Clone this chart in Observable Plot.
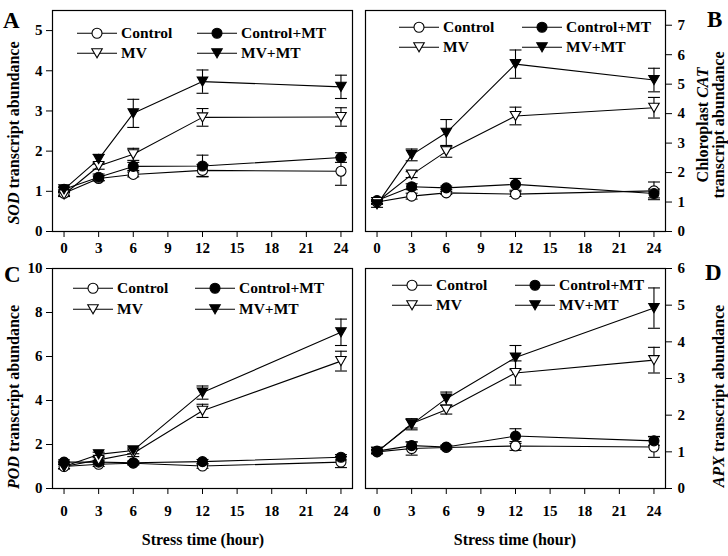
<!DOCTYPE html>
<html><head><meta charset="utf-8">
<script src="https://cdn.jsdelivr.net/npm/d3@7"></script>
<script src="https://cdn.jsdelivr.net/npm/@observablehq/plot@0.6"></script>
<style>
body{margin:0;background:#fff;}
#fig{position:relative;width:728px;height:556px;overflow:hidden;background:#fff;font-family:"Liberation Serif","Times New Roman",serif;font-weight:bold;color:#000;}
#fig svg.plotsvg{position:absolute;}
.rot{position:absolute;transform:translate(-50%,-50%) rotate(-90deg);white-space:nowrap;font-size:16px;line-height:1;text-align:center;}
.letter{position:absolute;font-size:23px;line-height:1;}
.leg{position:absolute;display:flex;align-items:center;font-size:15.5px;white-space:nowrap;transform:translateY(-50%);line-height:1;}
.leg svg{margin-right:4px;overflow:visible;}
.xt{position:absolute;transform:translate(-50%,-50%);font-size:16px;white-space:nowrap;}
</style></head>
<body><div id="fig"></div>
<script>
// ---------- data ----------
const times = [0, 3, 6, 12, 24];
const seriesNames = ["Control", "Control+MT", "MV", "MV+MT"];
const xTicks = [0, 3, 6, 9, 12, 15, 18, 21, 24];

// A: SOD
const sodControl   = [0.95, 1.32, 1.42, 1.52, 1.50];
const sodControlE  = [0.05, 0.06, 0.06, 0.15, 0.35];
const sodControlMT = [1.05, 1.35, 1.62, 1.63, 1.84];
const sodControlME = [0.06, 0.08, 0.10, 0.27, 0.12];
const sodMV        = [0.92, 1.63, 1.92, 2.84, 2.85];
const sodMVE       = [0.05, 0.08, 0.15, 0.22, 0.23];
const sodMVMT      = [1.05, 1.80, 2.94, 3.73, 3.60];
const sodMVMTE     = [0.05, 0.12, 0.35, 0.29, 0.29];
const sodTicks = [0, 1, 2, 3, 4, 5];

// B: chloroplast CAT
const catControl   = [1.00, 1.20, 1.31, 1.27, 1.38];
const catControlE  = [0.05, 0.10, 0.05, 0.08, 0.30];
const catControlMT = [1.05, 1.52, 1.48, 1.60, 1.29];
const catControlME = [0.10, 0.10, 0.06, 0.20, 0.15];
const catMV        = [1.00, 1.93, 2.72, 3.92, 4.20];
const catMVE       = [0.08, 0.10, 0.20, 0.30, 0.35];
const catMVMT      = [0.92, 2.60, 3.35, 5.68, 5.14];
const catMVMTE     = [0.10, 0.20, 0.45, 0.48, 0.40];
const catTicks = [0, 1, 2, 3, 4, 5, 6, 7];

// C: POD
const podControl   = [1.00, 1.10, 1.15, 1.02, 1.20];
const podControlE  = [0.10, 0.10, 0.08, 0.10, 0.25];
const podControlMT = [1.20, 1.20, 1.17, 1.22, 1.42];
const podControlME = [0.10, 0.08, 0.08, 0.10, 0.12];
const podMV        = [1.00, 1.30, 1.60, 3.53, 5.79];
const podMVE       = [0.10, 0.10, 0.15, 0.30, 0.45];
const podMVMT      = [1.00, 1.55, 1.73, 4.36, 7.10];
const podMVMTE     = [0.10, 0.10, 0.15, 0.30, 0.60];
const podTicks = [0, 2, 4, 6, 8, 10];

// D: APX
const apxControl   = [1.00, 1.09, 1.12, 1.16, 1.13];
const apxControlE  = [0.05, 0.18, 0.04, 0.12, 0.28];
const apxControlMT = [1.02, 1.17, 1.13, 1.43, 1.30];
const apxControlME = [0.05, 0.10, 0.05, 0.20, 0.12];
const apxMV        = [1.00, 1.77, 2.15, 3.15, 3.50];
const apxMVE       = [0.05, 0.12, 0.12, 0.33, 0.35];
const apxMVMT      = [1.00, 1.75, 2.45, 3.57, 4.92];
const apxMVMTE     = [0.05, 0.15, 0.18, 0.33, 0.55];
const apxTicks = [0, 1, 2, 3, 4, 5, 6];

// ---------- symbols ----------
const triangleDown = {
  draw(ctx, size) {
    const s = Math.sqrt(size / (3 * Math.sqrt(3)));
    ctx.moveTo(0, 1.5 * s);
    ctx.lineTo(-Math.sqrt(3) * s, -1.5 * s);
    ctx.lineTo(Math.sqrt(3) * s, -1.5 * s);
    ctx.closePath();
  }
};
const capSym = {
  draw(ctx, size) {
    const w = Math.sqrt(size / Math.PI);
    ctx.moveTo(-w, 0);
    ctx.lineTo(w, 0);
  }
};
const markerStyle = {
  "Control":    {symbol: "circle", fill: "white", r: 5},
  "Control+MT": {symbol: "circle", fill: "black", r: 5},
  "MV":         {symbol: triangleDown, fill: "white", r: 3.9},
  "MV+MT":      {symbol: triangleDown, fill: "black", r: 3.9}
};

const FONT = '"Liberation Serif","Times New Roman",serif';
const fig = document.getElementById("fig");

function buildRows(values, errors) {
  const rows = [];
  seriesNames.forEach((s, i) => times.forEach((t, j) =>
    rows.push({series: s, t, v: values[i][j], e: errors[i][j]})));
  return rows;
}

function panel(cfg) {
  const rows = buildRows(cfg.values, cfg.errors);
  const marks = [
    Plot.frame({stroke: "black", strokeWidth: 1.2}),
    Plot.line(rows, {x: "t", y: "v", z: "series", stroke: "black", strokeWidth: 1.1}),
    Plot.ruleX(rows, {x: "t", y1: d => d.v - d.e, y2: d => d.v + d.e, stroke: "black", strokeWidth: 1.1}),
    Plot.dot(rows, {x: "t", y: d => d.v + d.e, symbol: capSym, r: 6, stroke: "black", fill: "none", strokeWidth: 1.1}),
    Plot.dot(rows, {x: "t", y: d => d.v - d.e, symbol: capSym, r: 6, stroke: "black", fill: "none", strokeWidth: 1.1})
  ];
  seriesNames.forEach(s => {
    const m = markerStyle[s];
    marks.push(Plot.dot(rows.filter(d => d.series === s), {
      x: "t", y: "v", symbol: m.symbol, r: m.r, fill: m.fill, stroke: "black", strokeWidth: 1.1
    }));
  });
  const svg = Plot.plot({
    width: cfg.width, height: cfg.height,
    marginTop: cfg.margin.top, marginRight: cfg.margin.right,
    marginBottom: cfg.margin.bottom, marginLeft: cfg.margin.left,
    style: {background: "transparent", overflow: "visible", fontFamily: FONT, fontSize: "15px", fontWeight: "bold", color: "black"},
    x: {domain: [-1, 25], ticks: xTicks, tickFormat: d => String(d), tickSize: 6, tickPadding: cfg.xPad, label: null},
    y: {domain: cfg.yDomain, ticks: cfg.yTicks, tickFormat: d => String(d), tickSize: 6, tickPadding: cfg.axis === "left" ? 4 : 6, axis: cfg.axis, label: null},
    marks
  });
  svg.classList.add("plotsvg");
  svg.style.left = cfg.left + "px";
  svg.style.top = cfg.top + "px";
  fig.appendChild(svg);

  // legend
  const colX = cfg.legend.cols, rowY = cfg.legend.rows;
  const order = [["Control", 0, 0], ["Control+MT", 1, 0], ["MV", 0, 1], ["MV+MT", 1, 1]];
  order.forEach(([s, c, r]) => {
    const m = markerStyle[s];
    let shape;
    if (m.symbol === "circle") {
      shape = `<circle cx="20" cy="7" r="${m.r}" fill="${m.fill}" stroke="black" stroke-width="1.1"/>`;
    } else {
      const p = d3.path();
      triangleDown.draw(p, m.r * m.r * Math.PI);
      shape = `<path transform="translate(20,7)" d="${p.toString()}" fill="${m.fill}" stroke="black" stroke-width="1.1"/>`;
    }
    const div = document.createElement("div");
    div.className = "leg";
    div.style.left = colX[c] + "px";
    div.style.top = rowY[r] + "px";
    div.innerHTML = `<svg width="40" height="14"><line x1="0" x2="40" y1="7" y2="7" stroke="black" stroke-width="1.1"/>${shape}</svg><span>${s}</span>`;
    fig.appendChild(div);
  });
}

panel({values: [sodControl, sodControlMT, sodMV, sodMVMT], errors: [sodControlE, sodControlME, sodMVE, sodMVMTE],
  yDomain: [0, 5.5], yTicks: sodTicks, axis: "left", left: 0, top: 0, width: 360, height: 258,
  margin: {top: 10, right: 8, bottom: 27, left: 52}, xPad: 5,
  legend: {cols: [77, 197], rows: [33, 53]}});
panel({values: [catControl, catControlMT, catMV, catMVMT], errors: [catControlE, catControlME, catMVE, catMVMTE],
  yDomain: [0, 7.5], yTicks: catTicks, axis: "right", left: 360, top: 0, width: 340, height: 258,
  margin: {top: 10, right: 35, bottom: 27, left: 5}, xPad: 5,
  legend: {cols: [399, 522], rows: [27, 47]}});
panel({values: [podControl, podControlMT, podMV, podMVMT], errors: [podControlE, podControlME, podMVE, podMVMTE],
  yDomain: [0, 10], yTicks: podTicks, axis: "left", left: 0, top: 258, width: 360, height: 290,
  margin: {top: 10, right: 8, bottom: 60, left: 52}, xPad: 11,
  legend: {cols: [73, 195], rows: [288, 309]}});
panel({values: [apxControl, apxControlMT, apxMV, apxMVMT], errors: [apxControlE, apxControlME, apxMVE, apxMVMTE],
  yDomain: [0, 6], yTicks: apxTicks, axis: "right", left: 360, top: 258, width: 340, height: 290,
  margin: {top: 10, right: 35, bottom: 60, left: 5}, xPad: 11,
  legend: {cols: [392, 515], rows: [285, 305]}});

// text annotations
function addDiv(cls, html, x, y) {
  const d = document.createElement("div");
  d.className = cls; d.innerHTML = html;
  d.style.left = x + "px"; d.style.top = y + "px";
  fig.appendChild(d);
}
addDiv("letter", "A", 3, 9);
addDiv("letter", "B", 707, 8);
addDiv("letter", "C", 4, 263);
addDiv("letter", "D", 705, 261);
addDiv("rot", "<i>SOD</i> transcript abundance", 14, 133);
addDiv("rot", "<i>POD</i> transcript abundance", 14, 397);
addDiv("rot", "Chloroplast <i>CAT</i><br>transcript abundance", 711, 125);
addDiv("rot", "<i>APX</i> transcript abundance", 719, 396);
addDiv("xt", "Stress time (hour)", 203, 540);
addDiv("xt", "Stress time (hour)", 515, 540);
</script></body></html>
